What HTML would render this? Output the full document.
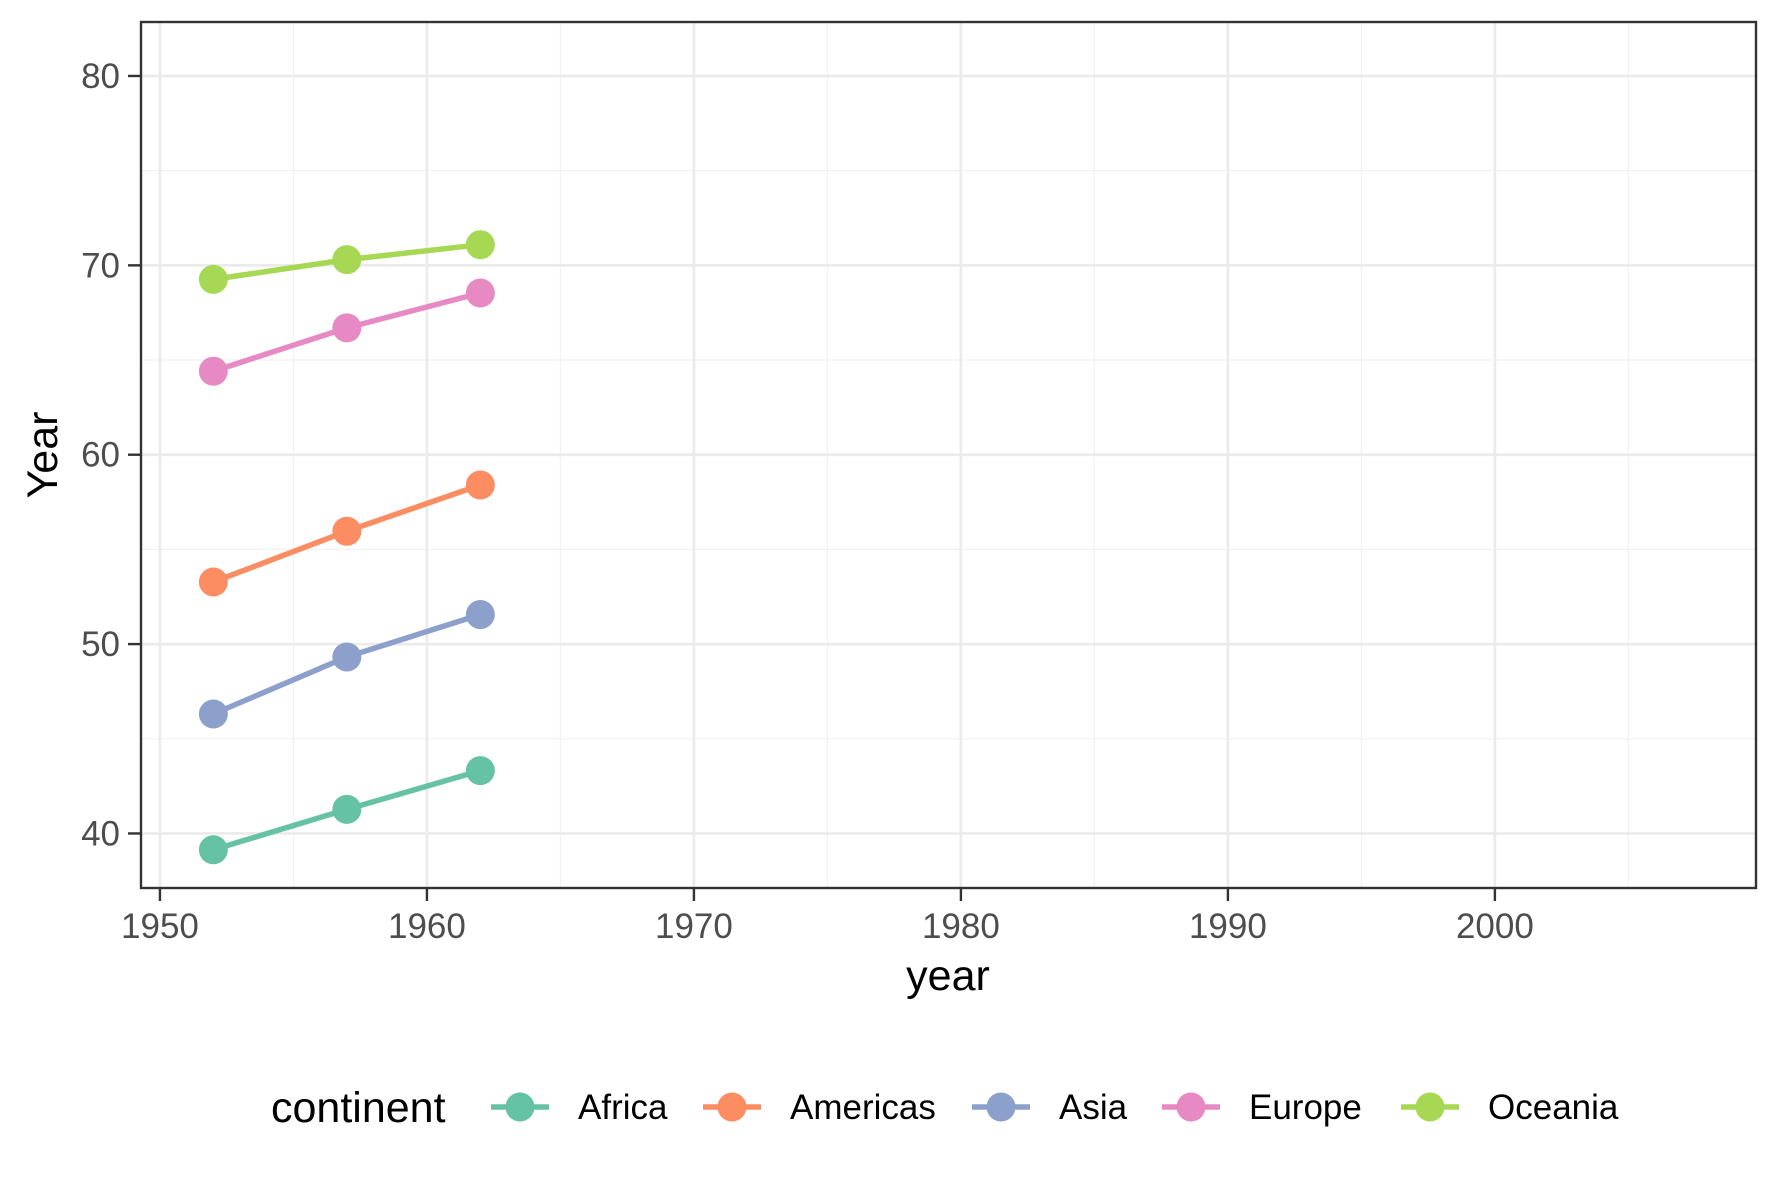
<!DOCTYPE html>
<html><head><meta charset="utf-8"><style>body{margin:0;background:#fff}svg{display:block}</style></head>
<body>
<svg id="chart" width="1771" height="1181" viewBox="0 0 1771 1181" xmlns="http://www.w3.org/2000/svg" font-family="Liberation Sans, Arial, sans-serif"></svg>
<script>
const years = [1952, 1957, 1962];
const continents = ["Africa", "Americas", "Asia", "Europe", "Oceania"];
const colors = ["#66c2a5", "#fc8d62", "#8da0cb", "#e78ac3", "#a6d854"];
const africa = [39.14, 41.27, 43.32];
const americas = [53.28, 55.96, 58.40];
const asia = [46.31, 49.32, 51.56];
const europe = [64.41, 66.70, 68.54];
const oceania = [69.26, 70.30, 71.09];
const seriesValues = [africa, americas, asia, europe, oceania];
const xTicks = [1950, 1960, 1970, 1980, 1990, 2000];
const yTicks = [40, 50, 60, 70, 80];

const svg = document.getElementById('chart');
const NS = 'http://www.w3.org/2000/svg';
const P = {l:141, r:1756, t:22, b:888};
const xMin = 1949.29, xMax = 2009.78, yMin = 37.12, yMax = 82.85;
const sx = v => P.l + (v - xMin) / (xMax - xMin) * (P.r - P.l);
const sy = v => P.b - (v - yMin) / (yMax - yMin) * (P.b - P.t);
function mk(tag, attrs, parent){const e=document.createElementNS(NS,tag);for(const k in attrs)e.setAttribute(k,attrs[k]);(parent||svg).appendChild(e);return e;}

const grid = mk('g',{});


for (let i=0;i<xTicks.length;i++){const v=xTicks[i]+5;if(v<xMax){const l=mk('line',{x1:sx(v),x2:sx(v),y1:P.t,y2:P.b,stroke:'#f2f2f2','stroke-width':1.3},grid);}}
for (let i=0;i<yTicks.length;i++){const v=yTicks[i]-5;if(v>yMin){const l=mk('line',{x1:P.l,x2:P.r,y1:sy(v),y2:sy(v),stroke:'#f2f2f2','stroke-width':1.3},grid);}}
for (const v of xTicks){const l=mk('line',{x1:sx(v),x2:sx(v),y1:P.t,y2:P.b,stroke:'#ebebeb','stroke-width':2.7},grid);}
for (const v of yTicks){const l=mk('line',{x1:P.l,x2:P.r,y1:sy(v),y2:sy(v),stroke:'#ebebeb','stroke-width':2.7},grid);}

continents.forEach((c,i)=>{
  const g = mk('g',{});
  
  
  const vals = seriesValues[i];
  const pl = mk('polyline',{points:years.map((y,j)=>sx(y)+','+sy(vals[j])).join(' '),fill:'none',stroke:colors[i],'stroke-width':5.5},g);
  
  
  years.forEach((y,j)=>{
    const p = mk('circle',{cx:sx(y),cy:sy(vals[j]),r:14.5,fill:colors[i]},g);
    
    
  });
});

const border = mk('rect',{x:P.l,y:P.t,width:P.r-P.l,height:P.b-P.t,fill:'none',stroke:'#333','stroke-width':2.4});



for (const v of xTicks){
  const t = mk('line',{x1:sx(v),x2:sx(v),y1:P.b,y2:P.b+13,stroke:'#333','stroke-width':2.4});
  
  
  const tx = mk('text',{x:sx(v),y:938,'text-anchor':'middle','font-size':35,fill:'#4d4d4d'});
  tx.textContent = v;
  
  
}
for (const v of yTicks){
  const t = mk('line',{x1:P.l-13,x2:P.l,y1:sy(v),y2:sy(v),stroke:'#333','stroke-width':2.4});
  
  
  const tx = mk('text',{x:P.l-21,y:sy(v)+12,'text-anchor':'end','font-size':35,fill:'#4d4d4d'});
  tx.textContent = v;
  
  
}

const xt = mk('text',{x:948,y:990,'text-anchor':'middle','font-size':43,fill:'#000'});
xt.textContent='year';


const yt = mk('text',{x:0,y:0,'text-anchor':'middle','font-size':43,fill:'#000',transform:'translate(57,455) rotate(-90)'});
yt.textContent='Year';



const leg = mk('g',{});


const lt = mk('text',{x:271,y:1122,'font-size':43,fill:'#000'},leg);
lt.textContent='continent';


const keyX = [520, 732, 1001, 1191, 1430];
continents.forEach((c,i)=>{
  const e = mk('g',{},leg);
  
  
  mk('line',{x1:keyX[i]-29,x2:keyX[i]+29,y1:1107,y2:1107,stroke:colors[i],'stroke-width':5.5},e);
  mk('circle',{cx:keyX[i],cy:1107,r:14.5,fill:colors[i]},e);
  const t = mk('text',{x:keyX[i]+58,y:1119,'font-size':35,fill:'#000'},e);
  t.textContent=c;
});
</script>
</body></html>
